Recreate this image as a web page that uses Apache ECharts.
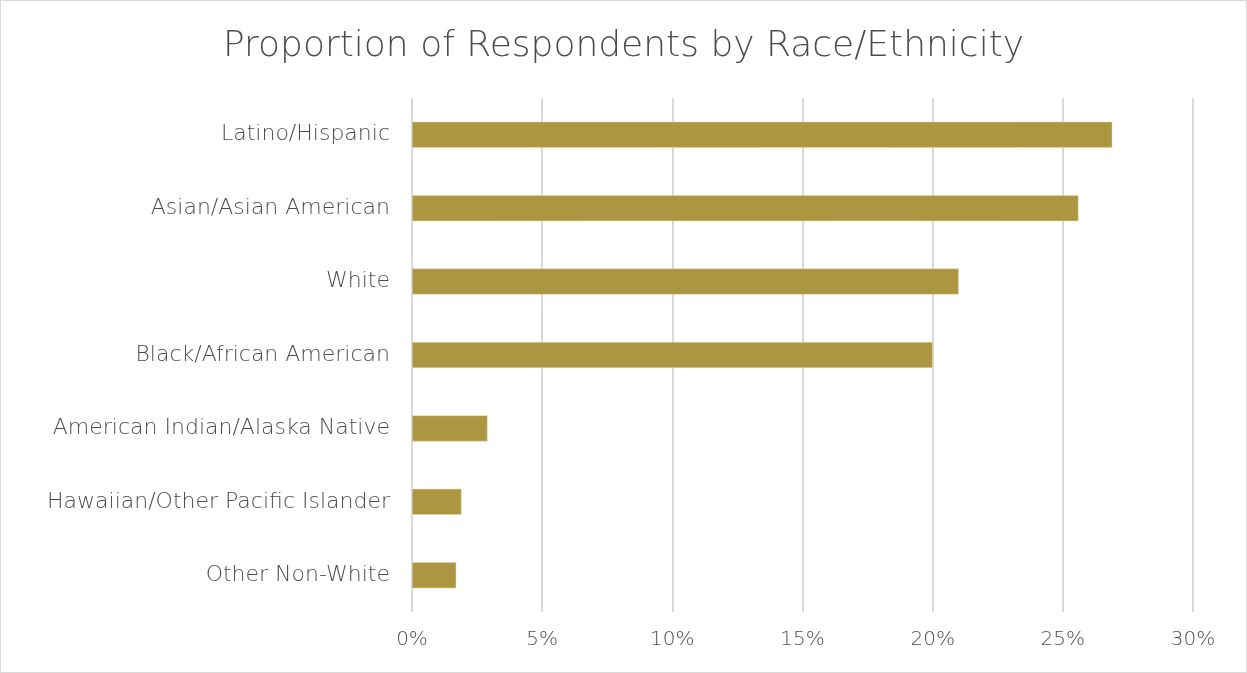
<!DOCTYPE html>
<html><head><meta charset="utf-8">
<script src="https://cdn.jsdelivr.net/npm/echarts@6/dist/echarts.min.js"></script>
<style>
html,body{margin:0;padding:0;background:#fff;}
#c{position:absolute;left:0;top:0;width:1245px;height:671px;border:1px solid #d9d9d9;}
</style></head><body>
<div id="c"></div>
<script>
const categories = ["Latino/Hispanic","Asian/Asian American","White","Black/African American","American Indian/Alaska Native","Hawaiian/Other Pacific Islander","Other Non-White"];
const values = [26.9, 25.6, 21.0, 20.0, 2.9, 1.9, 1.7];
const xTicks = [0, 5, 10, 15, 20, 25, 30];
const titleText = "Proportion of Respondents by Race/Ethnicity";

const chart = echarts.init(document.getElementById('c'), null, {renderer:'canvas'});
const font = "'DejaVu Sans', sans-serif";
chart.setOption({
  animation:false,
  title:{text:titleText,left:'center',top:23,textStyle:{fontFamily:font,fontWeight:200,fontSize:36,color:'#4d4d4d'}},
  grid:{left:411,right:53,top:97,bottom:60,containLabel:false},
  xAxis:{type:'value',min:xTicks[0],max:xTicks[xTicks.length-1],interval:5,
    axisLine:{show:false},axisTick:{show:false},
    axisLabel:{formatter:v=>v+'%',fontFamily:font,fontWeight:200,fontSize:20,color:'#4d4d4d',margin:18},
    splitLine:{lineStyle:{color:'#d9d9d9',width:2}}},
  yAxis:{type:'category',data:categories,inverse:true,
    axisLine:{show:false},axisTick:{show:false},
    axisLabel:{fontFamily:font,fontWeight:200,fontSize:22,color:'#4d4d4d',margin:22}},
  series:[{type:'bar',data:values,barWidth:26,itemStyle:{color:'#AD9642',borderColor:'#e6dcb0',borderWidth:0.5}}]
});
</script>
</body></html>
